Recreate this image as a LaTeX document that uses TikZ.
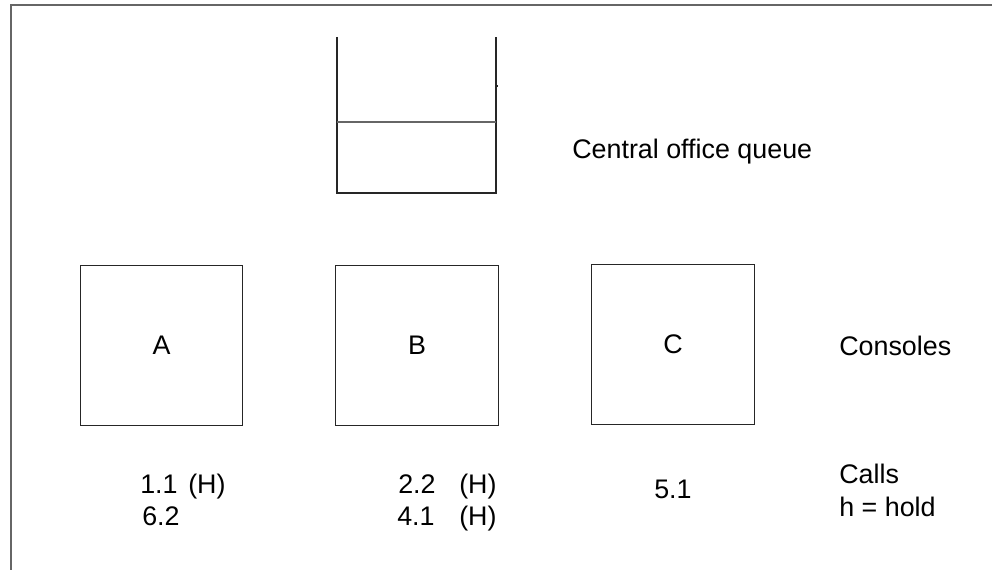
\documentclass[tikz,border=0pt]{standalone}
\usepackage{fontspec}
\setmainfont{Liberation Sans}
\usepackage{tikz}
\usetikzlibrary{positioning}
\tikzset{
  console/.style = {rectangle, draw=black!85, line width=0.7pt,
                    minimum width=4.05cm, minimum height=4.0cm},
  lbl/.style     = {anchor=base west, inner sep=0pt},
  frame/.style   = {draw=black!60, line width=1.3pt},
  queueline/.style = {draw=black!85, line width=0.8pt},
}

\begin{document}
\begin{tikzpicture}[x=0.025cm, y=-0.025cm,
                    every node/.style={font=\fontsize{19.1}{22}\selectfont}]

    \useasboundingbox (0,0) rectangle (992,570);

    %% page frame (top and left edge)
    \draw[frame] (992,5) -- (11,5) -- (11,570);

    %% Central office queue
    \coordinate (qtl) at (337,37);
    \coordinate (qtr) at (496,37);
    \coordinate (qbl) at (337,193);
    \coordinate (qbr) at (496,193);
    \draw[queueline] (qtl) -- (qbl) -- (qbr) -- (qtr);
    \draw[queueline, draw=black!60] (337,122) -- (496,122);
    \draw[queueline] (495,86) -- (498,86);
    \node[lbl] (qlabel) at (572,159) {Central office queue};

    %% Consoles
    \node[console] (conA) at (161.5,345.5) {A};
    \node[console] (conB) at (417.0,345.5) {B};
    \node[console] (conC) at (673.0,344.5) {C};
    \node[lbl] (conlabel) at (839,355) {Consoles};

    %% Calls per console
    \node[lbl] (a1)  at (140,493) {1.1};
    \node[lbl] (a1h) at (188,493) {(H)};
    \node[lbl] (a2)  at (142,525) {6.2};
    \node[lbl] (b1)  at (398,493) {2.2};
    \node[lbl] (b1h) at (459,493) {(H)};
    \node[lbl] (b2)  at (397,525) {4.1};
    \node[lbl] (b2h) at (459,525) {(H)};
    \node[lbl] (c1)  at (654,498) {5.1};

    \node[lbl] (calls) at (839,483) {Calls};
    \node[lbl] (hold)  at (839,516) {h = hold};

  \end{tikzpicture}
\end{document}
